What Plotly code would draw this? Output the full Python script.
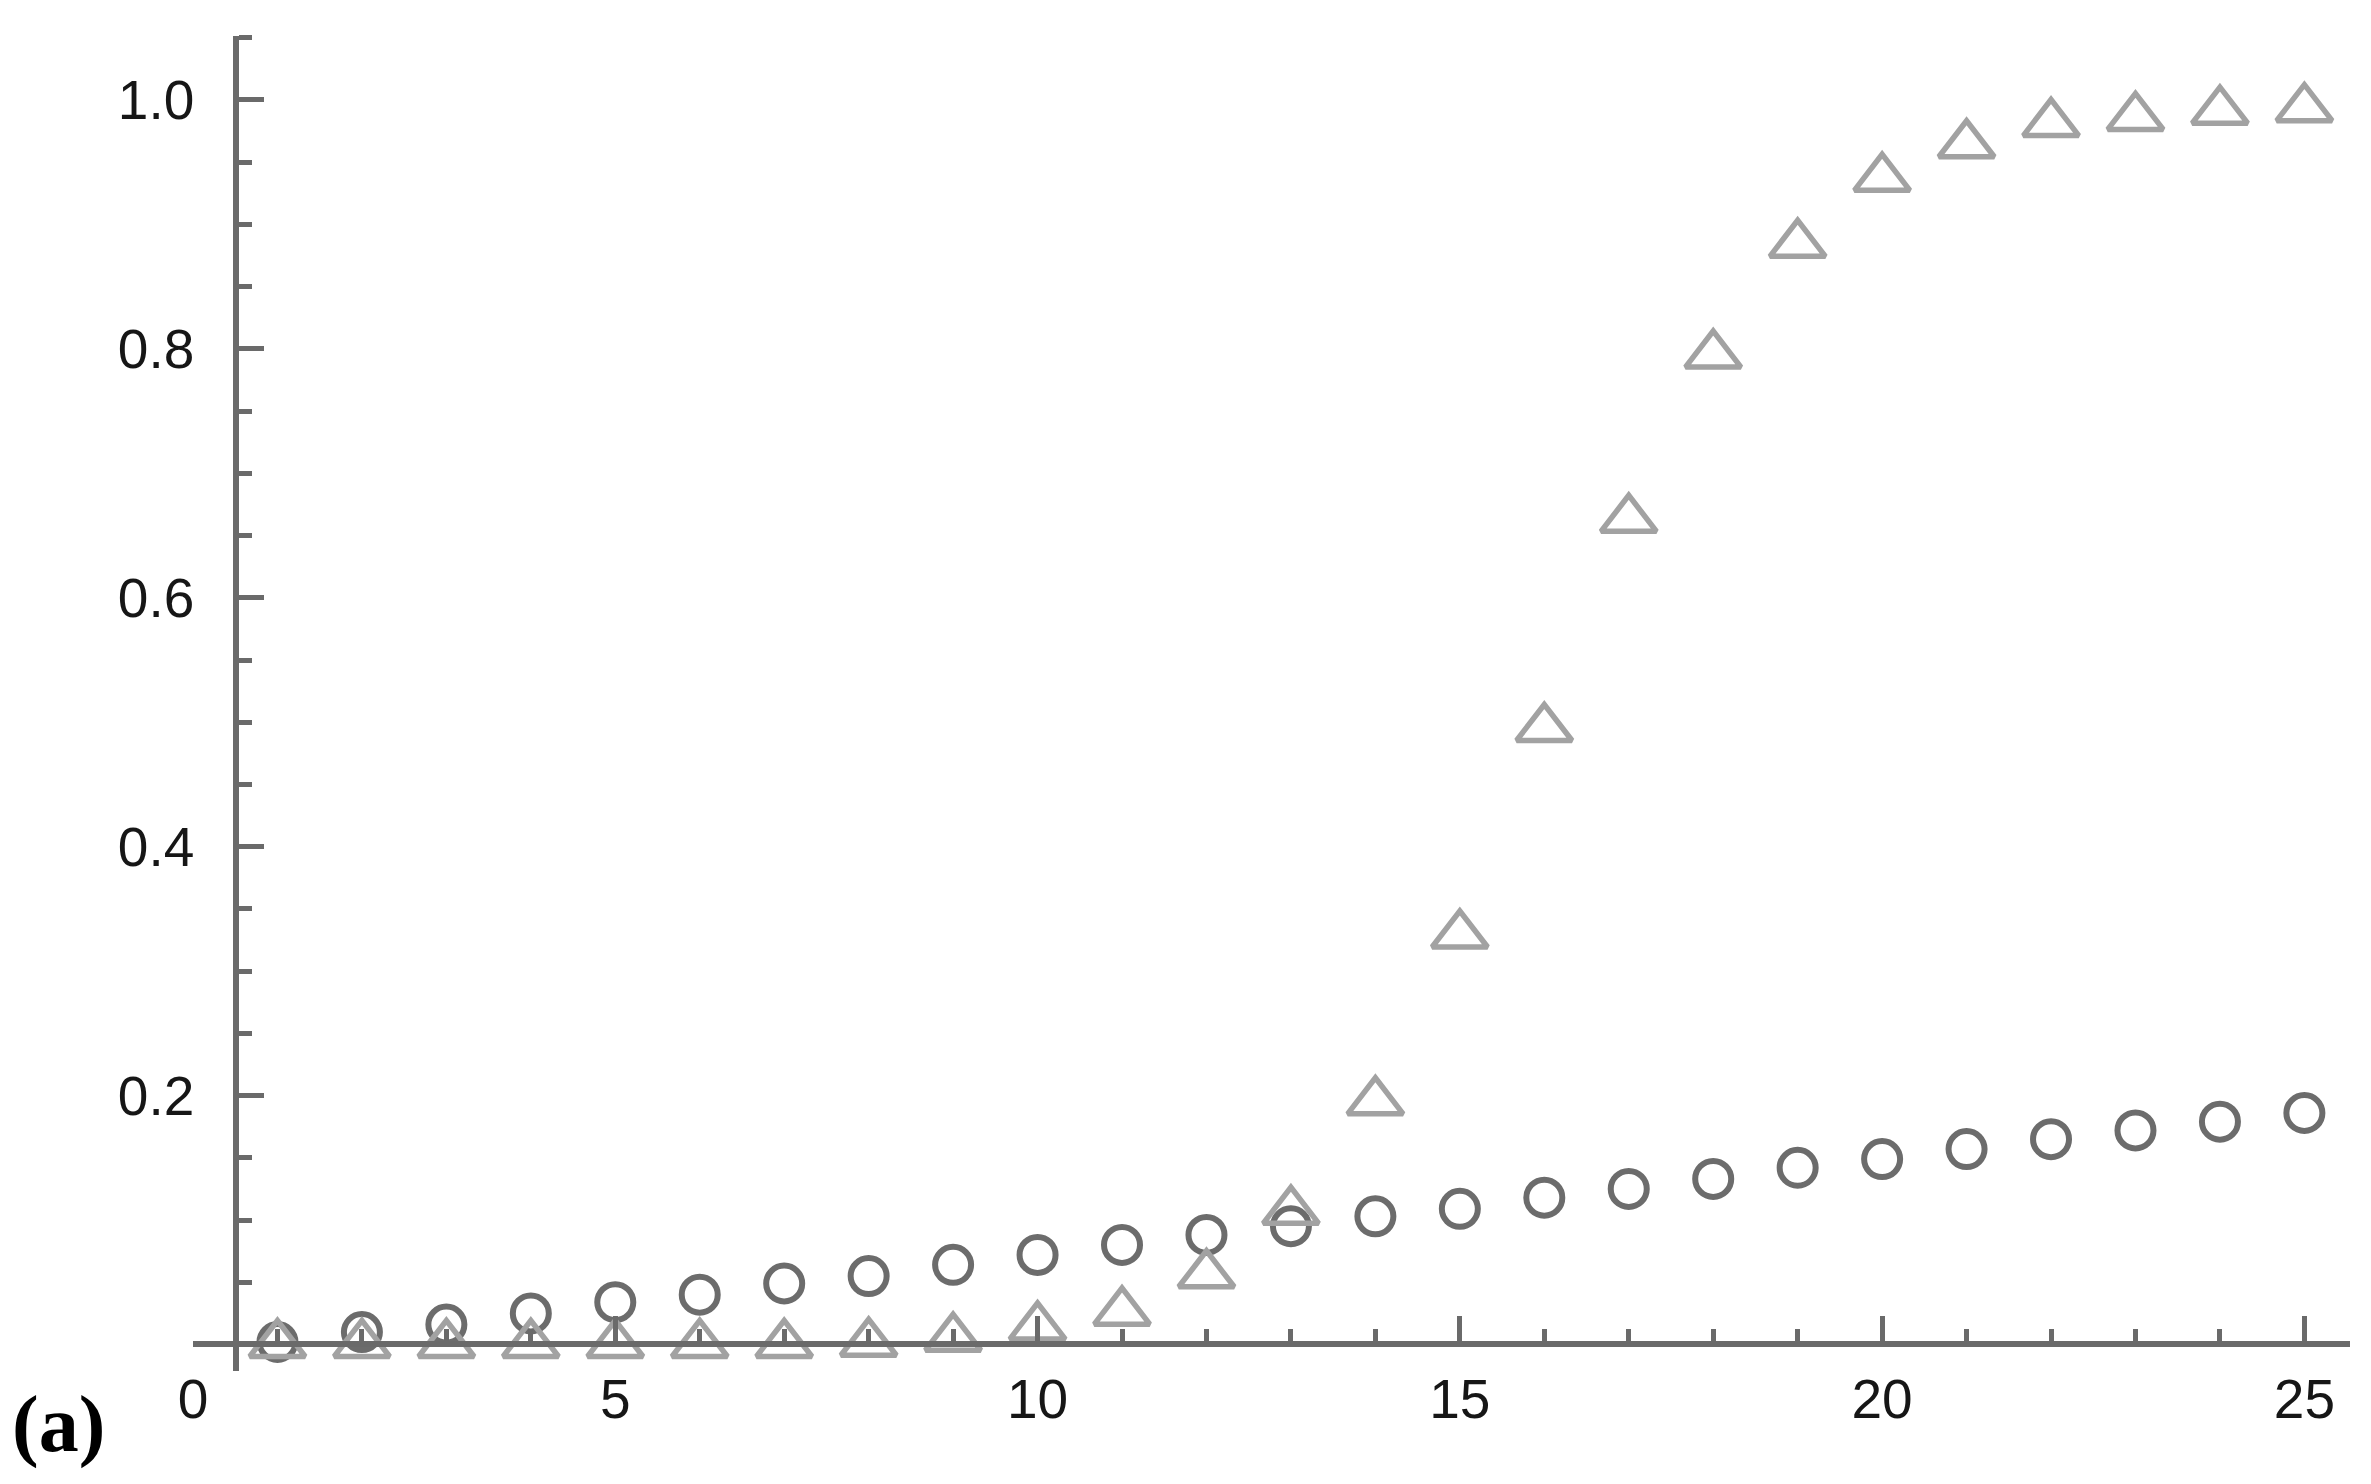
"""
Recreation of panel (a): two point series on Mathematica-style crossing axes.
"""

import plotly.graph_objects as go

# ------------------------------------------------------------
# Data
# ------------------------------------------------------------
steps = list(range(1, 26))

circle_vals = [
    0.002, 0.010, 0.016, 0.025, 0.034, 0.040, 0.049, 0.055, 0.064, 0.072,
    0.080, 0.088, 0.095, 0.103, 0.109, 0.118, 0.125, 0.133, 0.142, 0.149,
    0.157, 0.165, 0.172, 0.179, 0.186,
]

triangle_vals = [
    0.0, 0.0, 0.0, 0.0, 0.0, 0.0, 0.0, 0.001, 0.005, 0.014,
    0.026, 0.056, 0.107, 0.195, 0.329, 0.495, 0.663, 0.795, 0.884, 0.937,
    0.964, 0.981, 0.986, 0.991, 0.993,
]

x_ticks = [0, 5, 10, 15, 20, 25]
y_ticks = [0.2, 0.4, 0.6, 0.8, 1.0]
y_tick_text = ["0.2", "0.4", "0.6", "0.8", "1.0"]

X_RANGE = [0, 25.54]
Y_RANGE = [-0.0213, 1.0514]
Y_AXIS_AT = 0.51  # x value where the vertical axis crosses

AXIS_COLOR = "#6a6a6a"
TICK_FONT = dict(family="Liberation Sans, Arial, sans-serif", size=55, color="#161616")

fig = go.Figure()

fig.add_trace(go.Scatter(
    x=steps, y=circle_vals, mode="markers",
    marker=dict(symbol="circle-open", size=36, color="#6c6c6c",
                line=dict(width=6, color="#6c6c6c")),
    showlegend=False,
))

fig.add_trace(go.Scatter(
    x=steps, y=triangle_vals, mode="markers",
    marker=dict(symbol="triangle-up-open", size=48, color="#a2a2a2",
                line=dict(width=5.5, color="#a2a2a2")),
    showlegend=False,
))

fig.update_layout(
    width=2371,
    height=1484,
    margin=dict(l=185, r=29, t=28, b=121),
    plot_bgcolor="white",
    paper_bgcolor="white",
    xaxis=dict(
        range=X_RANGE,
        anchor="free",
        position=(0 - Y_RANGE[0]) / (Y_RANGE[1] - Y_RANGE[0]),
        showline=True, linecolor=AXIS_COLOR, linewidth=5.5,
        showgrid=False, zeroline=False,
        tickmode="array", tickvals=x_ticks,
        ticks="inside", ticklen=26, tickwidth=4.5, tickcolor=AXIS_COLOR,
        minor=dict(tickmode="linear", tick0=0, dtick=1, ticks="inside",
                   ticklen=13, tickwidth=4.5, tickcolor=AXIS_COLOR, showgrid=False),
        tickfont=TICK_FONT,
        ticklabelstandoff=5,
    ),
    yaxis=dict(
        range=Y_RANGE,
        anchor="free",
        position=(Y_AXIS_AT - X_RANGE[0]) / (X_RANGE[1] - X_RANGE[0]),
        showline=True, linecolor=AXIS_COLOR, linewidth=5.5,
        showgrid=False, zeroline=False,
        tickmode="array", tickvals=y_ticks, ticktext=y_tick_text,
        ticks="inside", ticklen=25, tickwidth=4.5, tickcolor=AXIS_COLOR,
        minor=dict(tickmode="linear", tick0=0, dtick=0.05, ticks="inside",
                   ticklen=13, tickwidth=4.5, tickcolor=AXIS_COLOR, showgrid=False),
        tickfont=TICK_FONT,
        ticklabelstandoff=28,
    ),
    annotations=[
        dict(
            text="<b>(a)</b>",
            xref="paper", yref="paper",
            x=-0.085, y=-0.040,
            xanchor="left", yanchor="middle",
            showarrow=False,
            font=dict(family="Liberation Serif, Times New Roman, serif",
                      size=80, color="black"),
        )
    ],
)

fig.write_html("out.html")
